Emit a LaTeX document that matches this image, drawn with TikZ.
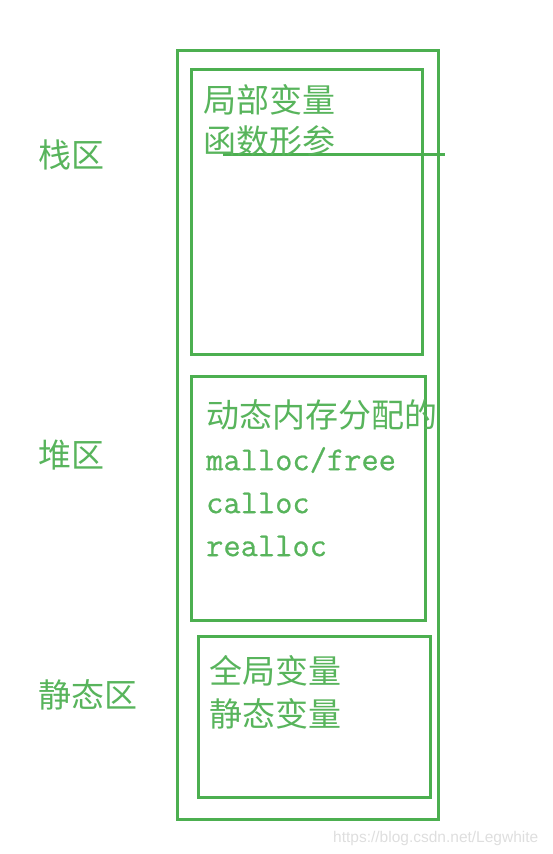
\documentclass[tikz,border=0pt]{standalone}
\usepackage{fontspec}
\newfontfamily\cjk{Noto Sans CJK SC}
\newfontfamily\wm{Liberation Sans}
\newfontfamily\mono[FakeBold=0.7]{Latin Modern Mono}
\definecolor{gr}{RGB}{76,175,80}
\definecolor{grt}{RGB}{88,180,92}
\begin{document}
\begin{tikzpicture}[x=1pt,y=-1pt,
  box/.style={draw=gr,line width=3pt,inner sep=0pt,anchor=north west},
  cn/.style={text=grt,inner sep=0pt,anchor=west,font=\cjk\fontsize{33}{38}\selectfont},
  lt/.style={text=grt,inner sep=0pt,anchor=west,font=\mono\fontsize{33.5}{38}\selectfont}]
\useasboundingbox (0,0) rectangle (552,854);
\node[box,minimum width=261pt,minimum height=769pt] (outer) at (176,49) {};
\node[box,minimum width=231pt,minimum height=285pt] (stack) at (190,68) {};
\node[box,minimum width=234pt,minimum height=244pt] (heap) at (190,375) {};
\node[box,minimum width=232pt,minimum height=161pt] (static) at (197,635) {};
\coordinate (l1) at (223,154);
\coordinate (l2) at (445,154);
\draw[gr,line width=3pt] (l1) -- (l2);
\node[cn] (s1) at (203,100) {局部变量};
\node[cn] (s2) at (203,141) {函数形参};
\node[cn] (h1) at (206,415) {动态内存分配的};
\node[lt] (h2) at (206,460) {malloc/free};
\node[lt] (h3) at (206,503) {calloc};
\node[lt] (h4) at (206,546) {realloc};
\node[cn] (g1) at (209,671) {全局变量};
\node[cn] (g2) at (209,714) {静态变量};
\node[cn] (L1) at (38,155) {栈区};
\node[cn] (L2) at (38,455) {堆区};
\node[cn] (L3) at (38,695) {静态区};
\node[text=black!13,inner sep=0pt,anchor=west,font=\wm\fontsize{15.5}{17}\selectfont] (wm) at (333,838) {https://blog.csdn.net/Legwhite};
\end{tikzpicture}
\end{document}
